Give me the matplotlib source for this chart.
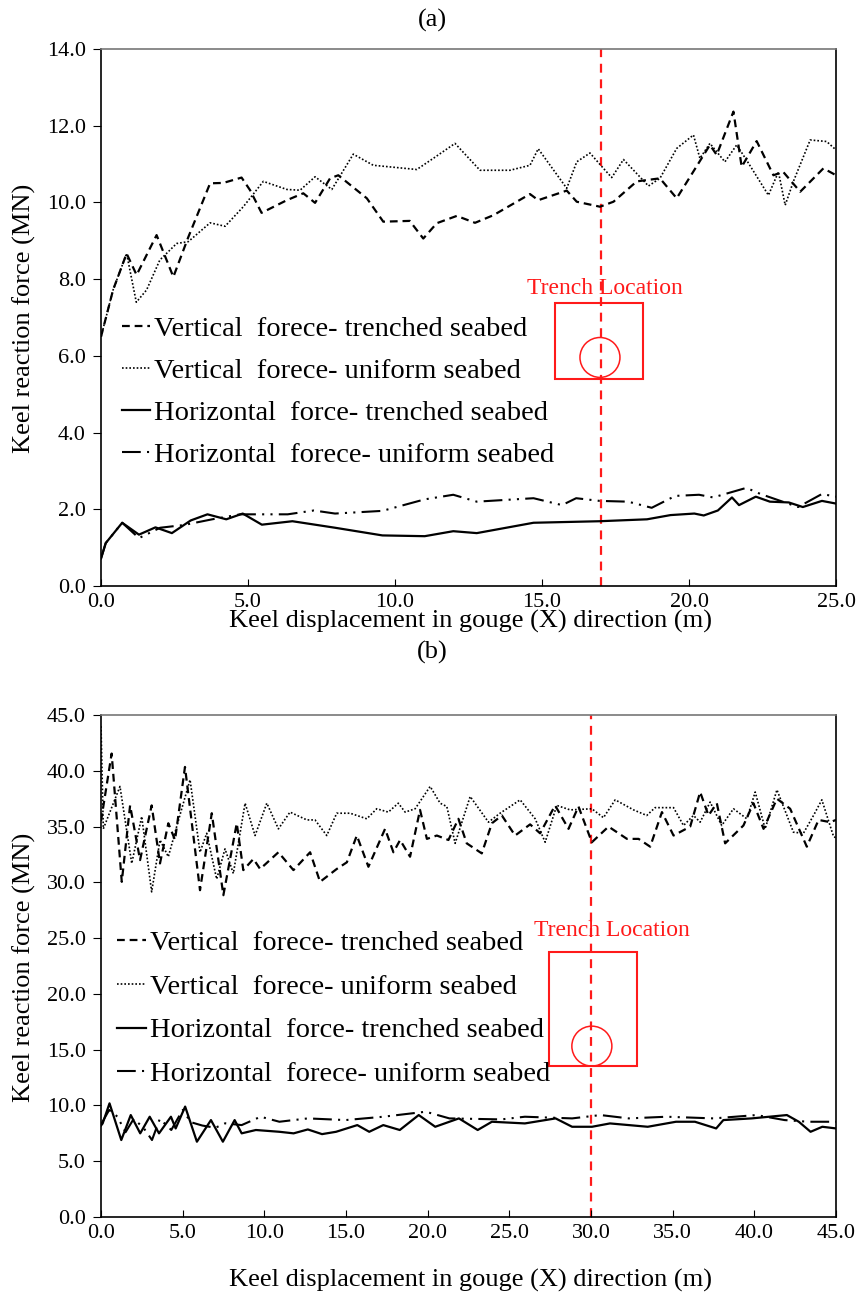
import numpy as np
import matplotlib
matplotlib.use("Agg")
import matplotlib.pyplot as plt
from matplotlib.patches import Rectangle, Ellipse

plt.rcParams['font.family'] = ['Liberation Serif', 'DejaVu Serif']

# ---- (a) data ----
xa_vt = [0, 0.41, 0.87, 1.21, 1.89, 2.46, 2.97, 3.71, 4.16, 4.78, 5.07, 5.46, 6.32, 6.88, 7.28,
         7.79, 8.07, 9.04, 9.60, 10.5, 10.96, 11.42, 12.1, 12.72, 13.35, 14.59, 14.87, 15.84,
         16.18, 16.97, 17.43, 18.22, 19.01, 19.58, 20.71, 20.94, 21.51, 21.79, 22.3, 22.87,
         23.2, 23.78, 24.57, 25]
ya_vt = [6.5, 7.72, 8.67, 8.11, 9.15, 8.06, 9.1, 10.5, 10.51, 10.65, 10.32, 9.73, 10.06, 10.24,
         9.99, 10.63, 10.71, 10.11, 9.50, 9.52, 9.06, 9.46, 9.65, 9.47, 9.67, 10.22, 10.06,
         10.31, 10.02, 9.89, 10.02, 10.55, 10.63, 10.11, 11.5, 11.24, 12.37, 10.93, 11.6,
         10.71, 10.8, 10.28, 10.89, 10.71]

xa_vu = [0, 0.41, 0.87, 1.2, 1.55, 2.0, 2.57, 2.97, 3.71, 4.22, 4.84, 5.52, 6.32, 6.77, 7.28,
         7.85, 8.58, 9.26, 10.74, 11.3, 12.04, 12.89, 13.91, 14.59, 14.87, 15.84, 16.18, 16.63,
         17.03, 17.37, 17.77, 18.62, 19.01, 19.58, 20.15, 20.37, 20.71, 21.22, 21.62, 21.96,
         22.7, 23.04, 23.27, 23.55, 24.12, 24.68, 25]
ya_vu = [6.5, 7.72, 8.67, 7.4, 7.72, 8.5, 8.93, 8.98, 9.47, 9.38, 9.89, 10.55, 10.34, 10.32,
         10.67, 10.34, 11.26, 10.97, 10.86, 11.15, 11.54, 10.84, 10.84, 10.97, 11.4, 10.37,
         11.06, 11.29, 10.94, 10.65, 11.12, 10.43, 10.63, 11.41, 11.76, 11.15, 11.54, 11.06,
         11.5, 11.1, 10.19, 10.8, 9.93, 10.55, 11.63, 11.59, 11.37]

xa_ht = [0, 0.16, 0.72, 1.29, 1.85, 2.41, 3.05, 3.62, 4.26, 4.82, 5.47, 6.51, 7.96, 9.57, 11.01,
         11.98, 12.78, 14.71, 16.96, 18.57, 19.37, 20.18, 20.5, 20.98, 21.46, 21.7, 22.27,
         22.75, 23.39, 23.87, 24.52, 25]
ya_ht = [0.72, 1.12, 1.65, 1.34, 1.53, 1.38, 1.71, 1.87, 1.74, 1.89, 1.60, 1.69, 1.52, 1.32,
         1.30, 1.43, 1.38, 1.65, 1.69, 1.74, 1.85, 1.89, 1.84, 1.97, 2.31, 2.11, 2.33, 2.20,
         2.18, 2.06, 2.22, 2.15]

xa_hu = [0, 0.16, 0.72, 1.29, 2.01, 2.81, 3.78, 4.74, 5.39, 6.35, 7.24, 7.96, 9.57, 11.01,
         11.98, 12.78, 14.71, 15.68, 16.16, 16.96, 17.93, 18.73, 19.53, 20.34, 20.82, 21.95,
         22.43, 23.71, 24.52, 25]
ya_hu = [0.72, 1.12, 1.65, 1.25, 1.52, 1.59, 1.74, 1.87, 1.87, 1.87, 1.97, 1.89, 1.96, 2.26,
         2.38, 2.20, 2.29, 2.11, 2.29, 2.22, 2.20, 2.04, 2.35, 2.38, 2.31, 2.56, 2.40, 2.06,
         2.40, 2.33]

# ---- (b) data ----
xb_vt = [0, 0.65, 1.27, 1.78, 2.39, 3.1, 3.61, 4.12, 4.53, 5.14, 6.06, 6.78, 7.49, 8.31, 8.71,
         9.33, 9.74, 10.86, 11.78, 12.8, 13.41, 14.43, 15.05, 15.66, 16.37, 17.39, 17.9, 18.31,
         18.92, 19.53, 19.95, 20.56, 21.27, 21.88, 22.39, 23.31, 23.93, 24.54, 25.35, 26.27,
         26.88, 27.8, 28.62, 29.23, 30.05, 31.07, 32.2, 32.91, 33.62, 34.34, 35.05, 36.07,
         36.68, 37.19, 37.7, 38.21, 39.33, 39.94, 40.56, 41.38, 42.19, 43.21, 43.93, 44.64, 45]
yb_vt = [35.5, 41.55, 30.05, 36.9, 32.0, 36.9, 31.7, 35.3, 33.8, 40.35, 29.3, 36.2, 28.85,
         35.3, 31.1, 32.1, 31.2, 32.7, 31.1, 32.7, 30.05, 31.2, 31.8, 34.2, 31.4, 34.8, 32.7,
         33.8, 32.3, 36.5, 33.9, 34.2, 33.8, 35.7, 33.5, 32.6, 35.3, 36.0, 34.2, 35.2, 34.4,
         36.9, 34.8, 36.8, 33.6, 35.0, 33.9, 33.9, 33.2, 36.3, 34.2, 35.0, 38.1, 36.0, 37.1,
         33.5, 35.1, 37.1, 34.8, 37.5, 36.6, 33.2, 35.6, 35.4, 35.6]

xb_vu = [0, 0.14, 1.16, 1.88, 2.49, 3.1, 3.61, 4.12, 4.63, 5.45, 6.06, 6.47, 7.08, 7.59, 8.1,
         8.82, 9.43, 10.15, 10.86, 11.57, 12.6, 13.1, 13.82, 14.43, 15.25, 16.27, 16.88, 17.59,
         18.2, 18.62, 19.23, 20.15, 20.76, 21.17, 21.68, 22.6, 23.72, 24.43, 25.66, 26.58,
         27.19, 27.9, 28.72, 30.05, 30.76, 31.48, 32.6, 33.41, 33.92, 35.05, 35.66, 36.27,
         36.68, 37.29, 38.0, 38.72, 39.54, 40.05, 40.66, 41.38, 42.39, 43.0, 43.62, 44.13,
         44.85, 45]
yb_vu = [44.0, 34.8, 38.6, 31.7, 35.9, 29.15, 33.8, 32.3, 35.0, 39.2, 32.7, 34.4, 30.3, 33.0,
         30.8, 37.1, 34.2, 37.1, 34.8, 36.3, 35.6, 35.6, 34.2, 36.2, 36.2, 35.7, 36.6, 36.3,
         37.1, 36.3, 36.6, 38.6, 37.1, 36.8, 33.5, 37.7, 35.4, 36.2, 37.4, 35.7, 33.6, 36.9,
         36.5, 36.6, 35.8, 37.4, 36.5, 36.0, 36.7, 36.7, 35.1, 36.0, 35.4, 37.2, 35.1, 36.6,
         35.7, 38.1, 34.8, 38.3, 34.5, 34.4, 36.0, 37.4, 34.1, 34.0]

xb_ht = [0, 0.1, 0.52, 1.24, 1.82, 2.4, 2.98, 3.55, 4.28, 4.57, 5.15, 5.87, 6.73, 7.46, 8.18,
         8.61, 9.48, 10.92, 11.79, 12.66, 13.53, 14.39, 15.69, 16.42, 17.28, 18.29, 19.45,
         20.46, 21.91, 23.06, 23.93, 25.95, 27.83, 28.84, 30.06, 31.16, 33.47, 35.2, 36.36,
         37.66, 38.1, 39.83, 41.99, 42.72, 43.44, 44.16, 45]
yb_ht = [8.2, 8.39, 10.19, 6.9, 9.14, 7.5, 8.99, 7.5, 8.99, 7.94, 9.9, 6.75, 8.69, 6.75, 8.69,
         7.5, 7.8, 7.64, 7.5, 7.85, 7.43, 7.64, 8.24, 7.64, 8.24, 7.8, 9.14, 8.09, 8.84, 7.8,
         8.54, 8.39, 8.84, 8.09, 8.09, 8.39, 8.09, 8.54, 8.54, 7.94, 8.69, 8.84, 9.14, 8.54,
         7.64, 8.09, 7.94]

xb_hu = [0, 0.5, 1.0, 1.5, 2.0, 2.6, 3.12, 3.6, 4.3, 5.0, 5.5, 6.2, 7.0, 7.6, 8.61, 9.77,
         10.92, 12.66, 14.97, 17.28, 19.88, 21.33, 24.5, 25.95, 28.84, 30.58, 32.31, 34.62,
         37.51, 40.12, 41.85, 43.29, 45]
yb_hu = [8.3, 9.6, 9.0, 7.6, 8.8, 8.0, 6.9, 8.8, 7.8, 9.6, 8.5, 8.2, 8.0, 8.4, 8.24, 8.99,
         8.54, 8.84, 8.69, 8.99, 9.44, 8.84, 8.75, 8.99, 8.84, 9.14, 8.84, 8.99, 8.84, 9.14,
         8.69, 8.54, 8.54]

labels = ["Vertical  forece- trenched seabed",
          "Vertical  forece- uniform seabed",
          "Horizontal  force- trenched seabed",
          "Horizontal  forece- uniform seabed"]

styles = [dict(ls=(0, (3.5, 2.2)), lw=1.6),
          dict(ls=(0, (1, 1.2)), lw=1.2),
          dict(ls="-", lw=1.6),
          dict(ls=(0, (9, 3, 1, 3, 1, 3)), lw=1.5)]

fig = plt.figure(figsize=(8.62, 12.98), dpi=100)
ax1 = fig.add_axes([0.1172, 0.5485, 0.8527, 0.4137])
ax2 = fig.add_axes([0.1172, 0.0624, 0.8527, 0.3867])


def draw(ax, series, xmax, ymax, ystep, trench, rect, circ, txt, leg_xy, spacing):
    for (x, y), lab, st in zip(series, labels, styles):
        ax.plot(x, y, color="black", label=lab, **st)
    ax.axvline(trench, color="#ff1a1a", ls=(0, (4, 3)), lw=1.6, zorder=1)
    ax.add_patch(Rectangle(rect[:2], rect[2], rect[3], fill=False, ec="#ff1a1a", lw=1.5))
    ax.add_patch(Ellipse(circ[:2], circ[2], circ[3], fill=False, ec="#ff1a1a", lw=1.1))
    ax.text(txt[0], txt[1], "Trench Location", color="#ff1a1a", fontsize=17,
            ha="center", va="center")
    ax.set_xlim(0, xmax)
    ax.set_ylim(0, ymax)
    ax.set_xticks(np.arange(0, xmax + 0.1, 5))
    ax.set_yticks(np.arange(0, ymax + 0.1, ystep))
    ax.set_xticklabels(["%.1f" % v for v in np.arange(0, xmax + 0.1, 5)])
    ax.set_yticklabels(["%.1f" % v for v in np.arange(0, ymax + 0.1, ystep)])
    ax.tick_params(axis="x", direction="in", length=5, pad=5, labelsize=16)
    ax.tick_params(axis="y", direction="out", length=6, pad=5, labelsize=16)
    ax.spines["top"].set_color("#777777")
    for s in ax.spines.values():
        s.set_linewidth(1.2)
    ax.legend(loc="upper left", bbox_to_anchor=leg_xy, frameon=False, fontsize=20.5,
              handlelength=1.0, handletextpad=0.15, labelspacing=spacing, borderpad=0,
              borderaxespad=0)


draw(ax1, [(xa_vt, ya_vt), (xa_vu, ya_vu), (xa_ht, ya_ht), (xa_hu, ya_hu)],
     25, 14, 2, 17.0, (15.44, 5.40, 3.0, 1.98), (16.97, 5.96, 1.36, 1.04), (17.14, 7.76),
     (0.028, 0.503), 0.56)
draw(ax2, [(xb_vt, yb_vt), (xb_vu, yb_vu), (xb_ht, yb_ht), (xb_hu, yb_hu)],
     45, 45, 5, 30.0, (27.43, 13.56, 5.37, 10.16), (30.05, 15.32, 2.45, 3.58), (31.3, 25.7),
     (0.022, 0.571), 0.62)

fig.text(0.502, 0.984, "(a)", ha="center", va="center", fontsize=19)
fig.text(0.502, 0.497, "(b)", ha="center", va="center", fontsize=19)
fig.text(0.546, 0.521, "Keel displacement in gouge (X) direction (m)", ha="center",
         va="center", fontsize=19)
fig.text(0.546, 0.0135, "Keel displacement in gouge (X) direction (m)", ha="center",
         va="center", fontsize=19)
fig.text(0.028, 0.755, "Keel reaction force (MN)", rotation=90, ha="center", va="center",
         fontsize=19)
fig.text(0.028, 0.255, "Keel reaction force (MN)", rotation=90, ha="center", va="center",
         fontsize=19)

fig.savefig("out.png", dpi=100)
